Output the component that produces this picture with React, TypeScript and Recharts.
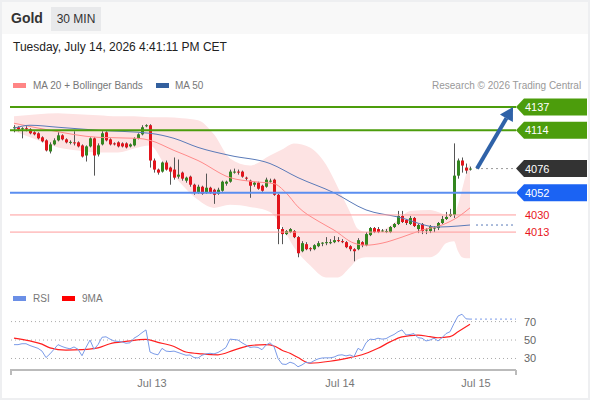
import React from 'react';
import { ComposedChart, Bar, Line, Area, XAxis, YAxis, ReferenceLine } from 'recharts';

// 30 min candles, [open, high, low, close]
const CANDLES: [number, number, number, number][] = [
  [4116, 4119, 4112, 4117], [4117, 4118, 4113, 4115], [4115, 4117, 4106, 4116], [4116, 4119, 4113, 4115],
  [4115, 4116, 4110, 4111], [4112, 4113, 4109, 4110], [4111, 4112, 4105, 4106], [4107, 4108, 4102, 4103],
  [4104, 4105, 4093, 4094], [4093, 4102, 4091, 4100], [4100, 4106, 4099, 4104], [4104, 4112, 4103, 4109],
  [4109, 4110, 4104, 4105], [4105, 4106, 4101, 4102], [4102, 4104, 4100, 4102.5], [4102, 4113, 4099, 4101],
  [4102, 4103, 4097, 4098], [4099, 4100, 4087, 4088], [4089, 4099, 4083, 4098], [4098, 4107, 4097, 4106],
  [4106, 4107, 4069, 4089], [4090, 4101, 4088, 4099], [4100, 4113, 4099, 4111], [4112, 4113, 4103, 4104],
  [4105, 4106, 4099, 4100], [4101, 4102, 4099, 4100.5], [4102, 4103, 4097, 4098], [4101, 4102, 4097, 4098],
  [4101, 4102, 4096, 4097], [4098, 4101, 4097, 4100], [4099, 4107, 4098, 4106], [4106, 4111, 4105, 4110],
  [4110, 4119, 4109, 4117], [4118, 4120, 4117, 4119], [4119, 4120, 4077, 4084], [4084, 4086, 4072, 4075],
  [4075, 4076, 4070, 4072], [4073, 4083, 4072, 4082], [4082, 4084, 4074, 4075], [4077, 4078, 4060, 4073],
  [4075, 4087, 4065, 4067], [4068, 4085, 4066, 4070], [4072, 4073, 4064, 4066], [4064, 4068, 4062, 4067],
  [4068, 4069, 4058, 4060], [4060, 4061, 4050, 4052], [4052, 4060, 4051, 4058], [4058, 4059, 4050, 4051],
  [4052, 4071, 4051, 4057], [4057, 4058, 4051, 4052], [4055, 4056, 4041, 4050], [4051, 4057, 4050, 4055],
  [4054, 4064, 4053, 4063], [4061, 4064, 4059, 4063], [4063, 4075, 4062, 4073], [4072, 4076, 4071, 4073],
  [4073, 4075, 4070, 4072], [4073, 4074, 4067, 4068], [4067, 4068, 4064, 4066], [4064, 4065, 4047, 4059],
  [4060, 4063, 4058, 4062], [4062, 4063, 4055, 4056], [4059, 4060, 4053, 4054], [4058, 4067, 4057, 4065],
  [4064, 4066, 4062, 4064], [4065, 4066, 4049, 4050], [4050, 4051, 4001, 4016], [4016, 4018, 4001, 4011],
  [4011, 4015, 4010, 4014], [4013, 4017, 4012, 4016], [4014, 4015, 4007, 4008], [4008, 4009, 3988, 3992],
  [3994, 4004, 3993, 4002], [4001, 4003, 3995, 3996], [3997, 3998, 3994, 3996.5], [3996, 4001, 3995, 4000],
  [3999, 4004, 3998, 4002], [4002, 4003, 3999, 4002.5], [4002, 4008, 4000, 4003], [4003, 4006, 4001, 4003],
  [4003, 4009, 4002, 4005], [4005, 4008, 4003, 4004], [4004, 4006, 4002, 4003], [4003, 4004, 3997, 3998],
  [3999, 4000, 3994, 3996], [3996, 3997, 3984, 3994], [3996, 4007, 3995, 4005], [4003, 4004, 3998, 4000],
  [4000, 4013, 3999, 4011], [4010, 4018, 4009, 4017], [4017, 4018, 4012, 4013], [4016, 4018, 4012, 4013],
  [4014, 4016, 4013, 4014.5], [4014, 4016, 4012, 4014], [4013, 4019, 4012, 4018], [4018, 4022, 4017, 4021],
  [4021, 4034, 4020, 4029], [4029, 4034, 4022, 4023], [4025, 4026, 4020, 4022], [4021, 4029, 4020, 4027],
  [4027, 4028, 4018, 4019], [4016, 4021, 4012, 4020], [4021, 4022, 4011, 4014], [4015, 4017, 4011, 4015.5],
  [4014, 4020, 4012, 4019], [4017, 4019, 4013, 4017.5], [4017, 4023, 4015, 4022], [4022, 4029, 4021, 4026],
  [4026, 4033, 4025, 4028], [4029, 4036, 4028, 4031], [4030, 4101, 4027, 4069], [4069, 4086, 4066, 4084],
  [4084, 4087, 4072, 4079], [4077, 4081, 4071, 4074], [4076, 4078, 4074, 4076],
];

// Bollinger bands, read at a few candles
const BB_IDX = [0, 6, 11, 16, 21, 26, 30, 34, 38, 42, 46, 50, 54, 59, 64, 67, 70, 74, 78, 81, 84, 86, 88, 92, 96, 99, 104, 106, 108, 110, 111, 112, 113, 114];
const BB_UPPER = [4128, 4130, 4131, 4130, 4129, 4128, 4128, 4127, 4127, 4126, 4124, 4110, 4086, 4079, 4089, 4095, 4101, 4097, 4080, 4057, 4033, 4016, 4013, 4015, 4025, 4034, 4035, 4033, 4030, 4029, 4040, 4055, 4070, 4082];
const BB_LOWER = [4113, 4104, 4097, 4094, 4092, 4092, 4096, 4099, 4078, 4060, 4045, 4037, 4040, 4038, 4033, 4018, 3998, 3980, 3968, 3968, 3978, 3986, 3988, 3988, 3988, 3988, 3988, 3992, 4002, 4004, 3994, 3988, 3987, 3987];

const MA20_IDX = [0, 9, 21, 31, 34, 40, 46, 54, 60, 65, 68, 71, 76, 80, 85, 88, 92, 97, 102, 107, 111, 114];
const MA20 = [4121, 4114, 4107, 4106, 4104, 4094, 4084, 4067, 4063, 4061, 4052, 4038, 4024, 4015, 4002, 4000, 4002, 4008, 4015, 4020, 4028, 4037];

const MA50_IDX = [0, 4, 11, 21, 34, 40, 46, 54, 64, 71, 80, 88, 96, 106, 111, 114];
const MA50 = [4116, 4119, 4117, 4114, 4111, 4106, 4097, 4089, 4081, 4067, 4052, 4035, 4028, 4018, 4019, 4020];

const RSI = [
  45, 45, 46, 46, 44, 42.5, 41, 38, 31, 35, 40, 45, 43, 41.5, 40.5, 42.5, 40, 33, 42, 50,
  40, 45, 53, 53.5, 51, 49, 48.5, 48, 46.5, 47, 52, 54.5, 58, 61, 37, 35, 34, 41, 38, 37.5,
  38, 36.5, 35, 33.5, 33.8, 31, 30.5, 33.5, 35, 35.6, 35, 36.5, 39, 42, 51, 50.5, 50, 47, 44.5, 42,
  42.5, 42, 39.5, 44.5, 47, 43, 30, 24, 23.5, 26, 24.5, 21, 23, 26, 25, 27.5, 29.5, 30.5, 30.7, 30.7,
  31.5, 33.5, 34, 32.8, 33.8, 32, 41, 38.5, 47, 51, 50.5, 52, 51, 51.5, 54, 56, 59, 61, 55.5, 56,
  57, 52.5, 52, 49, 50, 52, 49, 52.5, 57, 59, 68, 76, 78, 73, 72.7,
];
const RSI_MA_IDX = [0, 4, 7, 9, 13, 17, 21, 24, 28, 33, 36, 40, 43, 47, 51, 55, 59, 63, 65, 67, 69, 71, 74, 79, 84, 87, 91, 94, 97, 101, 104, 106, 109, 111, 114];
const RSI_MA = [52, 49, 45.5, 41.5, 39, 39.5, 41.5, 46, 48.5, 50.7, 47.5, 43, 37, 35, 34, 39, 44, 45, 43.5, 39, 35.6, 31, 25, 27, 31, 34, 41, 48, 53.5, 55.4, 53.6, 52.5, 53.6, 59, 67];

const DATE_TICKS = [34.5, 81.5, 115.5];
const DATE_LABELS = ['Jul 13', 'Jul 14', 'Jul 15'];
const RSI_LEVELS = [30, 50, 70];

const RESISTANCES = [4137, 4114];
const PIVOT = 4052;
const SUPPORTS = [4030, 4013];
const TARGET = 4137;

const X_DOMAIN: [number, number] = [-1, 125.5];
const LAST = CANDLES.length - 1;
const lastClose = CANDLES[LAST][3];

const rows: any[] = CANDLES.map(([o, h, l, c], i) => ({ i, o, h, l, c, rsi: RSI[i] }));
BB_IDX.forEach((k, j) => { rows[k].bb = [BB_LOWER[j], BB_UPPER[j]]; });
MA20_IDX.forEach((k, j) => { rows[k].ma20 = MA20[j]; });
MA50_IDX.forEach((k, j) => { rows[k].ma50 = MA50[j]; });
RSI_MA_IDX.forEach((k, j) => { rows[k].rsiMa = RSI_MA[j]; });

const font = '"Liberation Sans", Arial, sans-serif';

const Candle = (props: any) => {
  const { x, y, width, height, payload } = props;
  if (x == null || y == null) return null;
  const { o, h, l, c } = payload;
  const k = h - l > 0 ? height / (h - l) : 0;
  const yo = y + (h - o) * k;
  const yc = y + (h - c) * k;
  const cx = Math.round(x + width / 2) + 0.5;
  const top = Math.min(yo, yc);
  return (
    <g>
      <line x1={cx} x2={cx} y1={y} y2={y + height} stroke="#555" strokeWidth={1} />
      <rect x={cx - 1.5} y={top} width={3} height={Math.max(1, Math.abs(yc - yo))} fill={c >= o ? '#33861f' : '#e2141c'} />
    </g>
  );
};

const Tag = ({ viewBox, text, bg, color }: any) => {
  const x = viewBox.x + viewBox.width;
  const y = viewBox.y;
  return (
    <g>
      {bg && (
        <polygon
          points={`${x},${y} ${x + 8},${y - 8.5} ${x + 71},${y - 8.5} ${x + 71},${y + 8.5} ${x + 8},${y + 8.5}`}
          fill={bg}
        />
      )}
      <text x={x + 9} y={y + 4} fill={color} fontSize={11} fontFamily={font}>{text}</text>
    </g>
  );
};

const Arrow = (p: any) => {
  const { x1, y1, x2, y2 } = p;
  if (x1 == null) return null;
  const a = Math.atan2(y2 - y1, x2 - x1);
  const len = 13;
  const half = 7.5;
  const bx = x2 - len * Math.cos(a);
  const by = y2 - len * Math.sin(a);
  const nx = -Math.sin(a) * half;
  const ny = Math.cos(a) * half;
  return (
    <g>
      <line x1={x1} y1={y1} x2={bx} y2={by} stroke="#2f62a8" strokeWidth={4} />
      <polygon points={`${x2},${y2} ${bx + nx},${by + ny} ${bx - nx},${by - ny}`} fill="#2f62a8" />
    </g>
  );
};

const DateTick = (p: any) => {
  const { x, y, payload } = p;
  const idx = DATE_TICKS.indexOf(payload.value);
  return (
    <text x={x} y={y + 9} textAnchor="middle" fill="#777" fontSize={11} fontFamily={font}>
      {DATE_LABELS[idx]}
    </text>
  );
};

const Swatch = ({ left, top, color }: any) => (
  <div style={{ position: 'absolute', left, top, width: 13, height: 5, background: color }} />
);

const Txt = ({ left, top, size, color, children, bold }: any) => (
  <div style={{ position: 'absolute', left, top, fontSize: size, color, fontWeight: bold ? 'bold' : 'normal', lineHeight: 1.2, whiteSpace: 'nowrap' }}>
    {children}
  </div>
);

export default function App() {
  return (
    <div style={{ position: 'relative', width: 590, height: 400, background: '#fff', fontFamily: font, overflow: 'hidden' }}>
      <style>{'body{margin:0}'}</style>
      <div style={{ position: 'absolute', left: 0, top: 0, width: 590, height: 34, background: '#f8f8f8' }} />
      <div style={{ position: 'absolute', left: 0, top: 0, width: 586, height: 396, border: '2px solid #eeeff1' }} />
      <Txt left={11} top={10} size={14} color="#333" bold>Gold</Txt>
      <div style={{ position: 'absolute', left: 51, top: 7, width: 50, height: 24, background: '#e8e9eb', fontSize: 12, lineHeight: '24px', textAlign: 'center', color: '#333' }}>30 MIN</div>
      <Txt left={13} top={40} size={12} color="#222">Tuesday, July 14, 2026 4:41:11 PM CET</Txt>

      <Swatch left={13} top={83} color="#ff8585" />
      <Txt left={33} top={80} size={10} color="#777">MA 20 + Bollinger Bands</Txt>
      <Swatch left={156} top={83} color="#33609e" />
      <Txt left={175} top={80} size={10} color="#777">MA 50</Txt>
      <Txt left={432} top={80} size={10} color="#999">Research © 2026 Trading Central</Txt>

      <Swatch left={13} top={296} color="#6b8fe6" />
      <Txt left={33} top={293} size={10} color="#777">RSI</Txt>
      <Swatch left={62} top={296} color="#f00" />
      <Txt left={82} top={293} size={10} color="#777">9MA</Txt>

      <div style={{ position: 'absolute', left: 0, top: 0 }}>
        <ComposedChart width={590} height={400} data={rows} margin={{ top: 95, right: 74, bottom: 114.5, left: 10 }}>
          <XAxis dataKey="i" type="number" domain={X_DOMAIN} hide allowDataOverflow />
          <YAxis type="number" domain={[3960, 4149]} hide allowDataOverflow />
          <Area dataKey="bb" type="monotone" stroke="none" fill="#fde3e3" fillOpacity={1} connectNulls isAnimationActive={false} />
          <Line dataKey="ma20" type="monotone" stroke="#ff8a8a" strokeWidth={1} dot={false} connectNulls isAnimationActive={false} />
          <Line dataKey="ma50" type="monotone" stroke="#5a7ab8" strokeWidth={1} dot={false} connectNulls isAnimationActive={false} />
          {SUPPORTS.map((v) => (
            <ReferenceLine key={v} y={v} stroke="#ff9c9c" strokeWidth={1}
              label={(p: any) => <Tag {...p} text={String(v)} color="#e8151c" />} />
          ))}
          <ReferenceLine y={PIVOT} stroke="#5b8ef0" strokeWidth={2}
            label={(p: any) => <Tag {...p} text={String(PIVOT)} bg="#1b63f3" color="#fff" />} />
          {RESISTANCES.map((v) => (
            <ReferenceLine key={v} y={v} stroke="#4c9d0c" strokeWidth={2}
              label={(p: any) => <Tag {...p} text={String(v)} bg="#4c9d0c" color="#fff" />} />
          ))}
          <ReferenceLine y={lastClose} strokeOpacity={0}
            label={(p: any) => <Tag {...p} text={String(lastClose)} bg="#333" color="#fff" />} />
          <ReferenceLine segment={[{ x: LAST + 1.5, y: lastClose }, { x: X_DOMAIN[1], y: lastClose }]} stroke="#999" strokeDasharray="2 3" />
          <ReferenceLine segment={[{ x: LAST + 1.5, y: MA50[MA50.length - 1] }, { x: X_DOMAIN[1], y: MA50[MA50.length - 1] }]} stroke="#5a7ab8" strokeDasharray="2 3" />
          <Bar dataKey={(d: any) => [d.l, d.h]} barSize={3} shape={Candle} isAnimationActive={false} />
          <ReferenceLine segment={[{ x: LAST + 1.75, y: lastClose }, { x: LAST + 10.75, y: TARGET }]} shape={Arrow} />
        </ComposedChart>
      </div>

      <div style={{ position: 'absolute', left: 0, top: 0 }}>
        <ComposedChart width={590} height={400} data={rows} margin={{ top: 305, right: 34, bottom: 0, left: 10 }}>
          <XAxis dataKey="i" type="number" domain={X_DOMAIN} ticks={DATE_TICKS} tick={DateTick} tickLine={false}
            axisLine={{ stroke: '#bbb', strokeWidth: 2 }} height={30} allowDataOverflow />
          <YAxis orientation="right" type="number" domain={[17.5, 88]} ticks={RSI_LEVELS} width={40}
            axisLine={false} tickLine={false} tick={{ fill: '#666', fontSize: 11, fontFamily: font }} allowDataOverflow />
          {RSI_LEVELS.map((v) => (
            <ReferenceLine key={v} y={v} stroke="#aaa" strokeDasharray="1 3" />
          ))}
          <ReferenceLine segment={[{ x: LAST, y: RSI[LAST] }, { x: X_DOMAIN[1], y: RSI[LAST] }]} stroke="#7b9be8" strokeDasharray="2 3" />
          <Line dataKey="rsiMa" type="monotone" stroke="#ff2020" strokeWidth={1.2} dot={false} connectNulls isAnimationActive={false} />
          <Line dataKey="rsi" type="linear" stroke="#7b9be8" strokeWidth={1} dot={false} isAnimationActive={false} />
        </ComposedChart>
      </div>
      <div style={{ position: 'absolute', left: 10, top: 370, width: 2, height: 5, background: '#bbb' }} />
      <div style={{ position: 'absolute', left: 515, top: 370, width: 2, height: 5, background: '#bbb' }} />
    </div>
  );
}
